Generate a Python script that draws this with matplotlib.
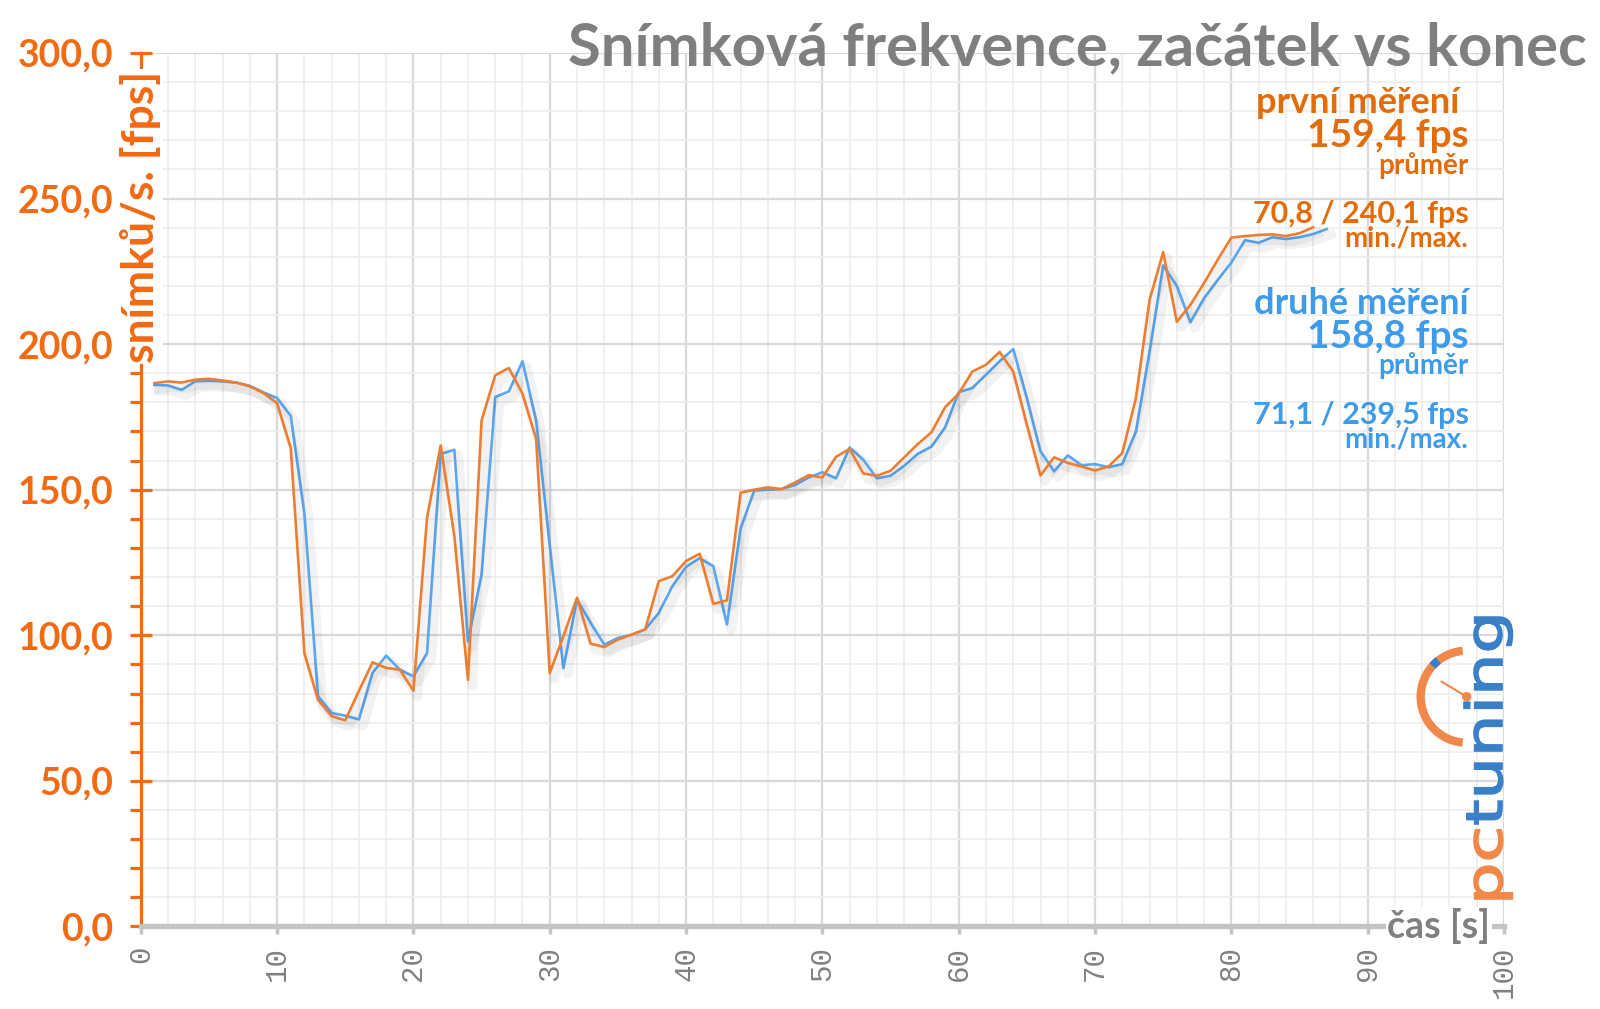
import numpy as np
import matplotlib.pyplot as plt
import matplotlib.patheffects as pe
from matplotlib.ticker import MultipleLocator, FuncFormatter
from matplotlib.patches import Arc, Circle, PathPatch
from matplotlib.textpath import TextPath
from matplotlib.font_manager import FontProperties
from matplotlib.transforms import Affine2D

plt.rcParams['font.family'] = ['Lato', 'DejaVu Sans']

# data
cas_prvni = list(range(1, 87))
fps_prvni = [186.6, 187.2, 186.8, 187.8, 188.1, 187.5, 186.8, 185.5, 183.2, 179.7,
             164.3, 93.9, 77.9, 72.2, 70.8, 80.9, 90.7, 88.8, 88.2, 81.0,
             140.5, 165.2, 134.1, 84.7, 173.8, 189.3, 191.8, 183.0, 167.5, 87.0,
             99.7, 112.9, 97.1, 96.0, 98.5, 100.2, 102.0, 118.6, 120.3, 125.5,
             128.0, 110.8, 112.0, 149.0, 150.0, 150.8, 150.2, 152.5, 155.0, 154.2,
             161.3, 164.0, 155.6, 154.8, 156.5, 161.1, 165.7, 169.7, 178.3, 183.0,
             190.6, 192.9, 197.3, 190.6, 172.3, 154.9, 161.1, 159.2, 158.0, 156.6,
             158.0, 162.6, 181.5, 215.2, 231.6, 207.7, 213.5, 221.0, 229.0, 236.6,
             237.1, 237.5, 237.7, 237.1, 238.1, 240.1]
cas_druhe = list(range(1, 88))
fps_druhe = [186.0, 185.8, 184.3, 187.2, 187.4, 187.2, 186.8, 185.7, 183.4, 181.5,
             175.4, 142.0, 79.1, 73.3, 72.4, 71.1, 87.1, 93.0, 88.2, 85.9,
             93.9, 162.3, 163.7, 97.9, 120.9, 181.8, 183.8, 194.1, 173.8, 131.0,
             88.7, 112.3, 104.3, 96.8, 99.1, 100.2, 102.0, 107.7, 116.9, 123.5,
             126.5, 123.7, 103.7, 136.7, 149.7, 150.0, 150.2, 151.6, 154.2, 156.0,
             153.9, 164.5, 160.3, 153.9, 154.8, 158.2, 162.3, 164.8, 171.4, 183.5,
             184.9, 189.5, 194.1, 198.3, 181.5, 163.2, 156.3, 161.8, 158.4, 158.8,
             157.7, 158.8, 170.0, 197.5, 227.0, 220.0, 207.5, 215.8, 222.0, 228.0,
             235.7, 234.8, 236.7, 236.1, 236.7, 237.8, 239.5]

mereni = ['první měření ', 'druhé měření']
prumer = ['159,4 fps', '158,8 fps']
minmax = ['70,8 / 240,1 fps', '71,1 / 239,5 fps']

c_oranz = '#ed7d31'
c_modra = '#5aa7f0'
c_text_oranz = '#e36c0a'
c_text_modra = '#3d9be9'
c_osa = '#f26a12'
c_seda = '#808080'
c_logo_o = '#f0884a'
c_logo_m = '#3a80c9'

fig = plt.figure(figsize=(16, 10.09), dpi=100)
ax = fig.add_axes([0.088, 0.0818, 0.852, 0.8657])

stin = [pe.SimpleLineShadow(offset=(3, -4), shadow_color='k', alpha=0.05, linewidth=7), pe.Normal()]
ax.plot(cas_druhe, fps_druhe, color=c_modra, lw=1.9, zorder=3, path_effects=stin)
ax.plot(cas_prvni, fps_prvni, color=c_oranz, lw=1.9, zorder=4, path_effects=stin)

ax.set_xlim(0, 100)
ax.set_ylim(0, 300)

# mrizka
ax.xaxis.set_major_locator(MultipleLocator(10))
ax.xaxis.set_minor_locator(MultipleLocator(2))
ax.yaxis.set_major_locator(MultipleLocator(50))
ax.yaxis.set_minor_locator(MultipleLocator(10))
ax.grid(which='major', color='#d9d9d9', lw=1.6, zorder=0)
ax.grid(which='minor', color='#ededed', lw=1.2, zorder=0)
ax.set_axisbelow(True)

for s in ['top', 'right']:
    ax.spines[s].set_visible(False)
ax.spines['left'].set_color(c_osa)
ax.spines['left'].set_linewidth(2.3)
ax.spines['bottom'].set_color('#c4c4c4')
ax.spines['bottom'].set_linewidth(3.8)

ax.yaxis.set_major_formatter(FuncFormatter(lambda v, p: ('%.1f' % v).replace('.', ',')))
ax.tick_params(axis='y', which='major', direction='inout', length=16, width=2.3,
               color=c_osa, labelcolor=c_osa, labelsize=27, pad=12)
ax.tick_params(axis='y', which='minor', direction='out', length=8, width=2.3, color=c_osa)
for t in ax.get_yticklabels():
    t.set_fontweight('bold')

ax.tick_params(axis='x', which='major', direction='out', length=6, width=2.5,
               color='#c4c4c4', labelcolor=c_seda, labelsize=21, pad=8, labelrotation=90)
ax.tick_params(axis='x', which='minor', length=0)
for t in ax.get_xticklabels():
    t.set_fontfamily('Liberation Mono')

# popisky os
ax.text(0, 0.8125, 'snímků/s. [fps]', transform=ax.transAxes, rotation=90,
        ha='center', va='center', fontsize=32, fontweight='bold', color=c_osa,
        bbox=dict(fc='white', ec='none', pad=1), zorder=6, clip_on=False)
ax.text(95.2, 0, 'čas [s]', ha='center', va='center', fontsize=27, color=c_seda,
        fontweight='bold', bbox=dict(fc='white', ec='none', pad=1), zorder=6, clip_on=False)

# nadpis
fig.text(0.992, 0.952, 'Snímková frekvence, začátek vs konec', ha='right', va='center',
         fontsize=43, fontweight='bold', color='#7f7f7f')

# legenda vpravo
xr = 97.4
for i, (barva, dy) in enumerate([(c_text_oranz, 0), (c_text_modra, -69)]):
    ax.text(xr, 283 + dy, mereni[i], ha='right', va='center', fontsize=26, fontweight='bold', color=barva)
    ax.text(xr, 271.6 + dy, prumer[i], ha='right', va='center', fontsize=28, fontweight='bold', color=barva)
    ax.text(xr, 261.5 + dy, 'průměr', ha='right', va='center', fontsize=20, fontweight='bold', color=barva)
    ax.text(xr, 244.7 + dy, minmax[i], ha='right', va='center', fontsize=22, fontweight='bold', color=barva)
    ax.text(xr, 236.2 + dy, 'min./max.', ha='right', va='center', fontsize=20, fontweight='bold', color=barva)

# logo
fp = FontProperties(family='DejaVu Sans', weight='normal')
tp_pc = TextPath((0, 0), 'pc', size=50, prop=fp)
tp_tun = TextPath((0, 0), 'tuning', size=50, prop=fp)
sx = 1.34
w_pc = tp_pc.get_extents().x1
fig.add_artist(PathPatch(tp_pc, transform=Affine2D().scale(sx, 1).rotate_deg(90).translate(1502, 104),
                         fc=c_logo_o, ec=c_logo_o, lw=1.2))
fig.add_artist(PathPatch(tp_tun, transform=Affine2D().scale(sx, 1).rotate_deg(90).translate(1502, 104 + sx * w_pc + 4),
                         fc=c_logo_m, ec=c_logo_m, lw=1.2))
lax = fig.add_axes([1406.7 / 1600, 252.3 / 1009, 120 / 1600, 120 / 1009])
lax.set_xlim(-60, 60)
lax.set_ylim(-60, 60)
lax.axis('off')
lax.add_patch(Arc((0, 0), 92, 92, theta1=95, theta2=265, color=c_logo_o, lw=6))
lax.add_patch(Arc((0, 0), 92, 92, theta1=128, theta2=138, color=c_logo_m, lw=6))
lax.plot([0, -25], [0, 15], color=c_logo_o, lw=1.5)
lax.add_patch(Circle((0, 0), 4, color=c_logo_o))

fig.savefig('out.png', dpi=100)
